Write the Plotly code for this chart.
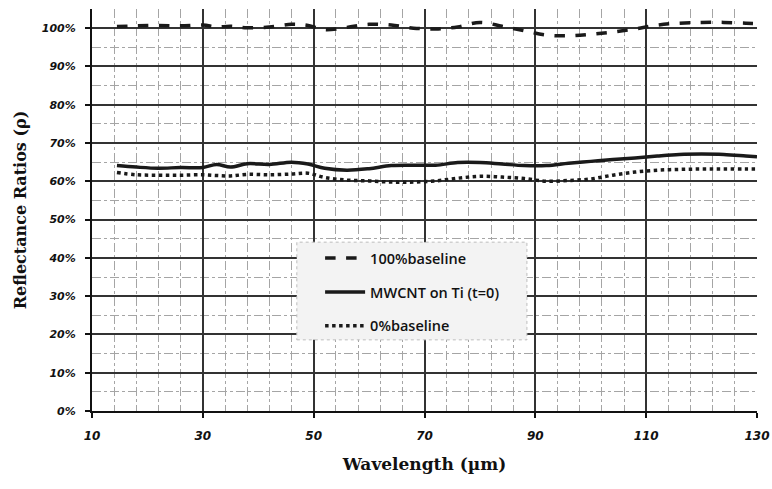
import plotly.graph_objects as go

wavelength = [14.5, 18, 22, 26, 30, 32.5, 35, 38, 42, 46, 49, 52, 56, 60, 64, 68, 72,
              76, 80, 84, 88, 92, 96, 100, 104, 108, 112, 116, 120, 124, 128, 130]
baseline_100 = [100.4, 100.6, 100.7, 100.6, 100.8, 100.3, 100.5, 100.1, 100.3, 101.0, 100.7,
                99.6, 100.2, 101.0, 100.8, 100.0, 99.8, 100.3, 101.5, 100.5, 99.3, 98.2,
                98.0, 98.4, 99.0, 99.8, 100.8, 101.3, 101.5, 101.5, 101.3, 101.2]
mwcnt_ti = [64.1, 63.7, 63.4, 63.6, 63.6, 64.4, 63.7, 64.6, 64.4, 65.0, 64.5, 63.4, 62.9,
            63.3, 64.1, 64.2, 64.2, 64.9, 64.9, 64.5, 64.1, 64.1, 64.7, 65.2, 65.7, 66.1,
            66.6, 67.0, 67.1, 67.0, 66.6, 66.4]
baseline_0 = [62.3, 61.7, 61.6, 61.6, 61.7, 61.5, 61.4, 61.8, 61.7, 61.9, 62.1, 61.0, 60.3,
              60.1, 59.8, 59.8, 60.1, 60.8, 61.3, 61.1, 60.7, 60.0, 60.2, 60.6, 61.6, 62.4,
              62.9, 63.1, 63.2, 63.2, 63.2, 63.2]

x_ticks = [10, 30, 50, 70, 90, 110, 130]
y_ticks = [0, 10, 20, 30, 40, 50, 60, 70, 80, 90, 100]

fig = go.Figure()
fig.add_trace(go.Scatter(x=wavelength, y=baseline_100, mode="lines", name="100%baseline",
                         legendgroup="a", line=dict(color="#1a1a1a", width=3.5, dash="dash", shape="spline")))
fig.add_trace(go.Scatter(x=wavelength, y=mwcnt_ti, mode="lines", name="MWCNT on Ti (t=0)",
                         legendgroup="b", line=dict(color="#1a1a1a", width=3.5, shape="spline")))
fig.add_trace(go.Scatter(x=wavelength, y=baseline_0, mode="lines", name="0%baseline",
                         legendgroup="c", line=dict(color="#1a1a1a", width=3.5, dash="dot", shape="spline")))

# legend background panel
fig.add_shape(type="rect", xref="paper", yref="paper", x0=0.308, x1=0.654, y0=0.177, y1=0.420,
              fillcolor="#f3f3f3", line=dict(color="#bdbdbd", width=1, dash="dot"), layer="above")

fig.update_layout(
    width=772, height=489,
    margin=dict(l=92, r=15, t=9, b=78, autoexpand=False),
    paper_bgcolor="white", plot_bgcolor="white",
    showlegend=True,
    legend=dict(x=0.343, y=0.42, xanchor="left", yanchor="top",
                bgcolor="rgba(0,0,0,0)", borderwidth=0,
                font=dict(family="Open Sans", size=14.5, color="#111", weight=600),
                traceorder="grouped", tracegroupgap=12, itemwidth=40),
    xaxis=dict(range=[10, 130], tickvals=x_ticks, ticktext=[str(v) for v in x_ticks],
               automargin=False,
               showgrid=True, gridcolor="#333", gridwidth=1.5,
               showline=True, linecolor="#111", linewidth=2,
               ticks="outside", ticklen=5, tickcolor="#111", tickwidth=1.5,
               tickfont=dict(family="DejaVu Sans", size=12, color="#111", weight="bold", style="italic"),
               ticklabelstandoff=8,
               minor=dict(dtick=4, tick0=10, showgrid=True, gridcolor="#a5a5a5", griddash="dashdot", gridwidth=1),
               title=dict(text="Wavelength (µm)", standoff=16,
                          font=dict(family="DejaVu Serif", size=17, color="#111", weight="bold")),
               zeroline=False),
    yaxis=dict(range=[0, 105], tickvals=y_ticks, ticktext=[f"{v}%" for v in y_ticks],
               automargin=False,
               showgrid=True, gridcolor="#333", gridwidth=1.5,
               showline=True, linecolor="#111", linewidth=2,
               ticks="outside", ticklen=5, tickcolor="#111", tickwidth=1.5,
               tickfont=dict(family="DejaVu Sans", size=11, color="#111", weight="bold", style="italic"),
               ticklabelstandoff=7,
               minor=dict(dtick=5, tick0=0, showgrid=True, gridcolor="#a5a5a5", griddash="dashdot", gridwidth=1),
               title=dict(text="Reflectance Ratios (ρ)", standoff=11,
                          font=dict(family="DejaVu Serif", size=16, color="#111", weight="bold")),
               zeroline=False),
)

fig.write_html("out.html", config={"displayModeBar": False})

# remove the browser's default page margin so the figure fills the window exactly
with open("out.html", "r", encoding="utf-8") as f:
    html = f.read()
html = html.replace("<head>", "<head><style>html,body{margin:0;padding:0;overflow:hidden;}</style>", 1)
with open("out.html", "w", encoding="utf-8") as f:
    f.write(html)
